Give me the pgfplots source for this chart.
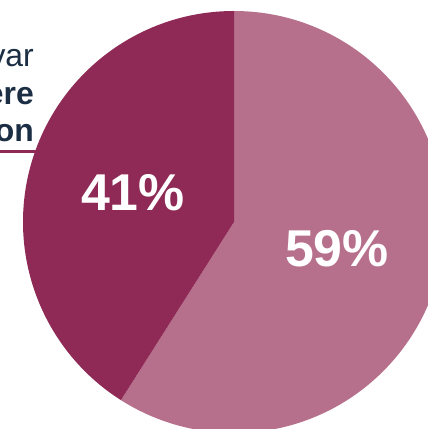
\documentclass[border=0pt]{standalone}
\usepackage{pgfplots}
\pgfplotsset{compat=1.18}
\usepackage{fontspec}
\setmainfont{Liberation Sans}

\definecolor{darkslice}{HTML}{8E2A55}
\definecolor{lightslice}{HTML}{B6708C}
\definecolor{navytext}{HTML}{1B2E44}

% slice values (percent)
\def\valA{59}
\def\valB{41}

\begin{document}
\begin{tikzpicture}
\pgfmathsetmacro\angA{90-3.6*\valA}
\pgfmathsetmacro\angB{\angA+360}
\clip (0,0) rectangle (428bp,429bp);
\begin{axis}[
  scale only axis,
  x=1bp, y=1bp,
  xmin=0, xmax=428, ymin=0, ymax=429,
  hide axis,
  clip=false,
  at={(0,0)}, anchor=south west,
]
% underline of the cut-off caption
\draw[darkslice, line width=3bp] (axis cs:0,277) -- (axis cs:60,277);

% pie
\fill[lightslice] (axis cs:234,207) -- (axis cs:234,418)
  arc[start angle=90, end angle=\angA, radius=211bp] -- cycle;
\fill[darkslice] (axis cs:234,207) -- (axis cs:234,418)
  arc[start angle=90, end angle=\angB, radius=211bp] -- cycle;

% caption fragments on the left
\node[anchor=base east, inner sep=0pt, navytext, font=\fontsize{32}{38}\selectfont] at (axis cs:34,362) {var};
\node[anchor=base east, inner sep=0pt, navytext, font=\bfseries\fontsize{32}{38}\selectfont] at (axis cs:34,324) {ere};
\node[anchor=base east, inner sep=0pt, navytext, font=\bfseries\fontsize{32}{38}\selectfont] at (axis cs:34,287) {on};

% percentages
\node[white, inner sep=0pt, font=\bfseries\fontsize{52}{60}\selectfont] at (axis cs:133,236) {\valB\%};
\node[white, inner sep=0pt, font=\bfseries\fontsize{52}{60}\selectfont] at (axis cs:337,180) {\valA\%};
\end{axis}
\end{tikzpicture}
\end{document}
